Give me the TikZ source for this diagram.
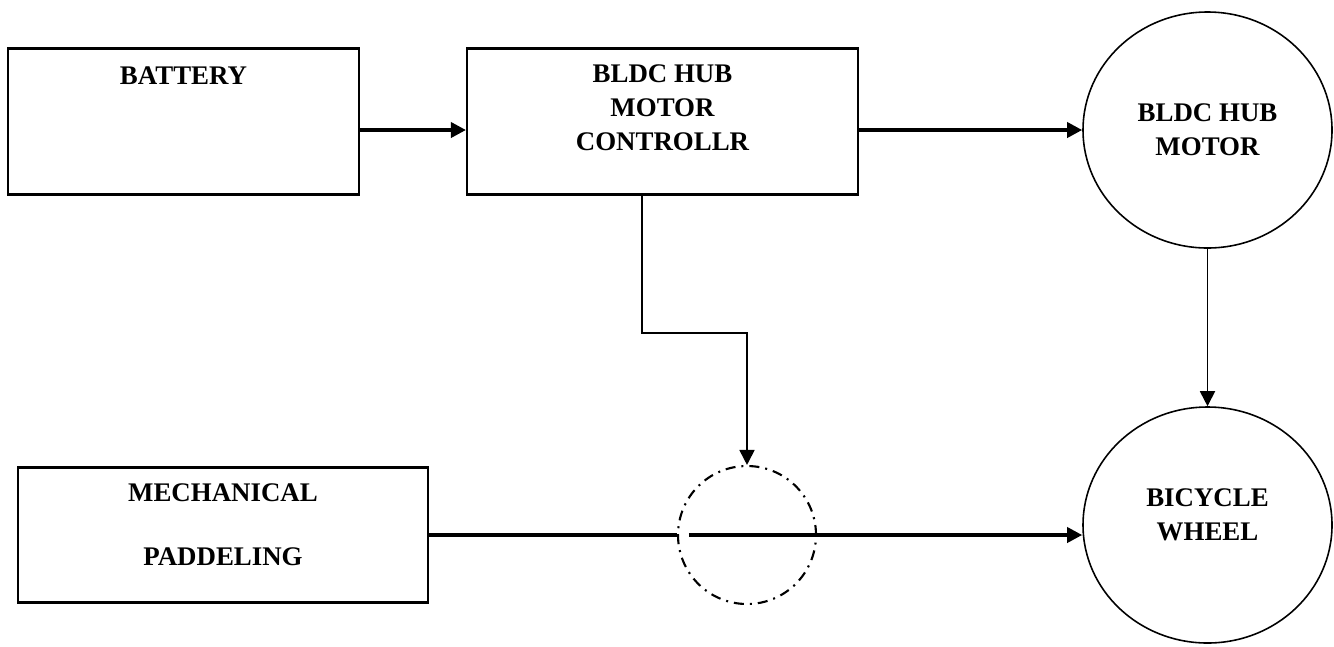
\documentclass[tikz,border=0pt]{standalone}
\usepackage{fontspec}
\setmainfont{Liberation Serif}
\usepackage{tikz}
\usetikzlibrary{shapes.geometric, arrows.meta, positioning, calc}
\tikzset{
    block/.style={draw, line width=1.2pt, minimum width=7cm, minimum height=2.92cm, inner sep=0pt},
    blocktxt/.style={inner sep=0pt, align=center, font=\bfseries\fontsize{15.3}{19.4}\selectfont},
    unit/.style={ellipse, draw, line width=0.9pt, minimum width=4.98cm, minimum height=4.72cm, inner sep=0pt, align=center, font=\bfseries\fontsize{15.3}{19.4}\selectfont},
    joint/.style={circle, draw, line width=1.2pt, minimum size=2.76cm, inner sep=0pt, dash pattern=on 0.2cm off 0.12cm on 0.04cm off 0.12cm},
    arr/.style={-{Triangle[length=0.3cm, width=0.3cm]}, line width=2pt},
    thinarr/.style={-{Triangle[length=0.3cm, width=0.3cm]}, line width=1pt}
}
\begin{document}
\begin{tikzpicture}
    \useasboundingbox (0,0) rectangle (26.68,-12.92);

    % Top row
    \node[block, minimum width=7.02cm] (battery) at (3.67,-2.43) {};
    \node[blocktxt, below=0.38cm of battery.north] (batterytxt) {BATTERY};
    \node[block, minimum width=7.82cm] (ctrl) at (13.25,-2.43) {};
    \node[blocktxt, below=0.34cm of ctrl.north] (ctrltxt) {BLDC HUB\\MOTOR\\CONTROLLR};
    \node[unit] (motor) at (24.15,-2.60) {BLDC HUB\\MOTOR};

    \draw[arr] (battery.east |- motor.west) -- (ctrl.west |- motor.west);
    \draw[arr] (ctrl.east |- motor.west) -- (motor.west);

    % Bottom row
    \node[block, minimum width=8.2cm, minimum height=2.7cm] (mech) at (4.46,-10.70) {};
    \node[blocktxt, below=0.34cm of mech.north] (mechtxt) {MECHANICAL\\[17pt]PADDELING};
    \node[joint] (clutch) at (14.94,-10.70) {};
    \node[unit] (wheel) at (24.15,-10.50) {BICYCLE\\WHEEL\\[-8pt]};

    \coordinate (tap) at ([xshift=-0.41cm]ctrl.south);
    \coordinate (clutchin) at ([xshift=0.24cm]clutch.west);

    \draw[thinarr] (tap) -- ++(0,-2.75) -| (clutch.north);
    \draw[thinarr] (motor.south) -- (wheel.north);
    \draw[line width=2pt] (mech.east) -- (clutch.west);
    \draw[arr] (clutchin) -- (clutchin -| wheel.west);
\end{tikzpicture}
\end{document}
